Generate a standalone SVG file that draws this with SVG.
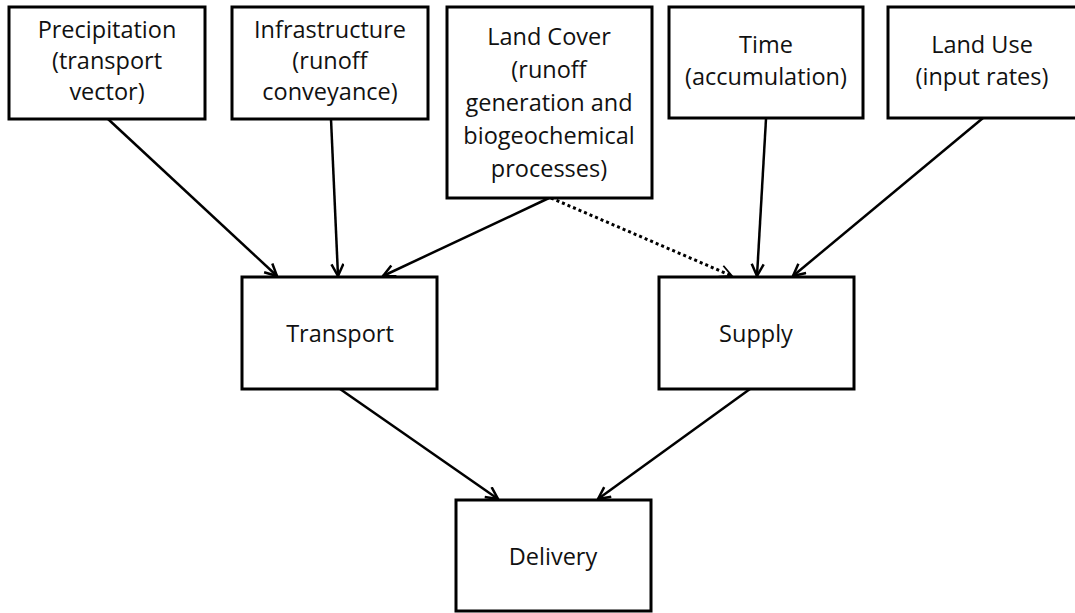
<svg xmlns="http://www.w3.org/2000/svg" width="1075" height="613" viewBox="0 0 1075 613">
<style>
.box{fill:#fff;stroke:#000;stroke-width:3}
.t{font-family:"Open Sans","Liberation Sans",sans-serif;font-size:23.5px;fill:#111;text-anchor:middle}
.c{stroke:#000;stroke-width:2.5;fill:none}
.d{stroke:#000;stroke-width:3;fill:none;stroke-dasharray:3 3}
</style>
<defs>
<marker id="ah" markerUnits="userSpaceOnUse" markerWidth="16" markerHeight="16" refX="13" refY="7" orient="auto">
<path d="M1,1 L13,7 L1,13" fill="none" stroke="#000" stroke-width="2.5"/>
</marker>
<marker id="ahd" markerUnits="userSpaceOnUse" markerWidth="16" markerHeight="16" refX="13" refY="7" orient="auto">
<path d="M1,1 L13,7 L1,13" fill="none" stroke="#000" stroke-width="1.8"/>
</marker>
</defs>
<g id="connectors">
<line class="c" x1="108" y1="119" x2="277" y2="276" marker-end="url(#ah)"/>
<line class="c" x1="331" y1="119" x2="338" y2="276" marker-end="url(#ah)"/>
<line class="c" x1="549" y1="198" x2="383" y2="276" marker-end="url(#ah)"/>
<line class="d" x1="551" y1="198" x2="732" y2="276" marker-end="url(#ahd)"/>
<line class="c" x1="766" y1="119" x2="757" y2="276" marker-end="url(#ah)"/>
<line class="c" x1="983" y1="118" x2="793" y2="276" marker-end="url(#ah)"/>
<line class="c" x1="340" y1="389" x2="498" y2="499" marker-end="url(#ah)"/>
<line class="c" x1="750" y1="389" x2="598" y2="499" marker-end="url(#ah)"/>
</g>
<g id="precipitation">
<rect class="box" x="9" y="7" width="196" height="112"/>
<text class="t" x="107" y="38">Precipitation</text>
<text class="t" x="107" y="69">(transport</text>
<text class="t" x="107" y="100">vector)</text>
</g>
<g id="infrastructure">
<rect class="box" x="232" y="7" width="196" height="112"/>
<text class="t" x="330" y="38">Infrastructure</text>
<text class="t" x="330" y="69">(runoff</text>
<text class="t" x="330" y="100">conveyance)</text>
</g>
<g id="landcover">
<rect class="box" x="447" y="7" width="205" height="191"/>
<text class="t" x="549" y="45">Land Cover</text>
<text class="t" x="549" y="78">(runoff</text>
<text class="t" x="549" y="111">generation and</text>
<text class="t" x="549" y="144">biogeochemical</text>
<text class="t" x="549" y="177">processes)</text>
</g>
<g id="time">
<rect class="box" x="669" y="7" width="194" height="111"/>
<text class="t" x="766" y="53">Time</text>
<text class="t" x="766" y="85">(accumulation)</text>
</g>
<g id="landuse">
<rect class="box" x="888" y="7" width="190" height="111"/>
<text class="t" x="982" y="53">Land Use</text>
<text class="t" x="982" y="85">(input rates)</text>
</g>
<g id="transport">
<rect class="box" x="242" y="277" width="195" height="112"/>
<text class="t" x="340" y="342">Transport</text>
</g>
<g id="supply">
<rect class="box" x="659" y="277" width="195" height="112"/>
<text class="t" x="756" y="342">Supply</text>
</g>
<g id="delivery">
<rect class="box" x="456" y="500" width="195" height="111"/>
<text class="t" x="553" y="565">Delivery</text>
</g>
</svg>
